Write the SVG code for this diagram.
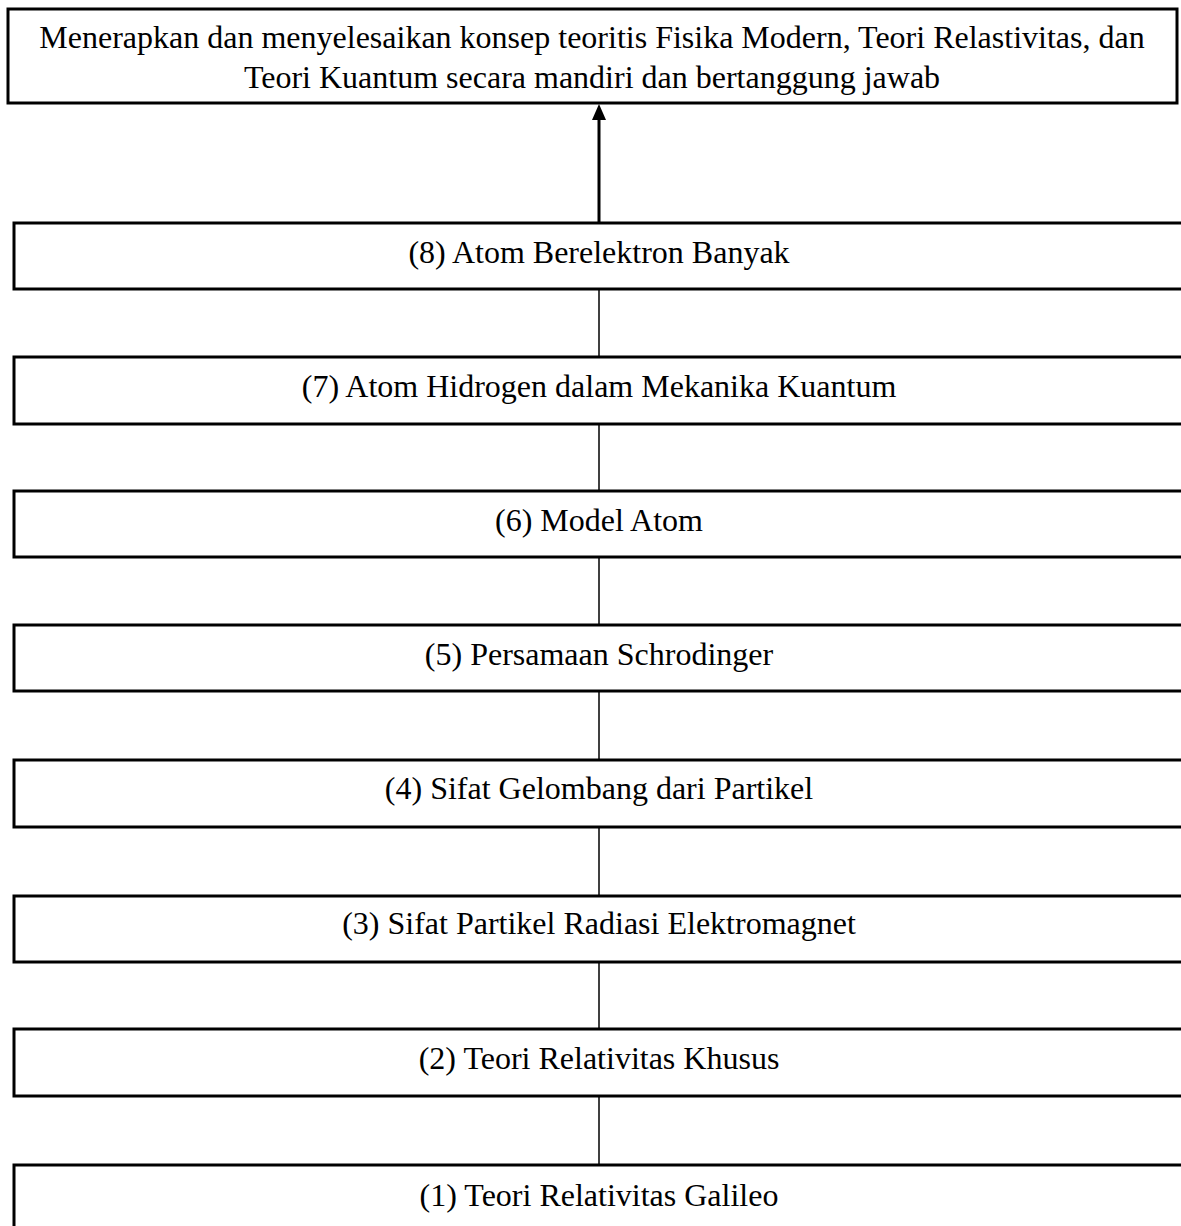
<svg xmlns="http://www.w3.org/2000/svg" width="1181" height="1226" viewBox="0 0 1181 1226">
<style>
.box{fill:#fff;stroke:#000;stroke-width:3}
.t{font-family:"Liberation Serif","Times New Roman",serif;font-size:32px;fill:#000;text-anchor:middle}
.c{stroke:#000;stroke-width:1.5;fill:none}
</style>
<rect width="1181" height="1226" fill="#fff"/>
<g id="connectors">
<line class="c" x1="599" y1="223" x2="599" y2="110" style="stroke-width:3"/>
<path d="M599,104 L592,120 L606,120 Z" fill="#000"/>
<line class="c" x1="599" y1="290" x2="599" y2="357"/>
<line class="c" x1="599" y1="424" x2="599" y2="491"/>
<line class="c" x1="599" y1="558" x2="599" y2="625"/>
<line class="c" x1="599" y1="692" x2="599" y2="760"/>
<line class="c" x1="599" y1="827" x2="599" y2="896"/>
<line class="c" x1="599" y1="962" x2="599" y2="1029"/>
<line class="c" x1="599" y1="1096" x2="599" y2="1165"/>
</g>
<g id="goal">
<rect class="box" x="8" y="9" width="1169" height="94"/>
<text class="t" x="592" y="48">Menerapkan dan menyelesaikan konsep teoritis Fisika Modern, Teori Relastivitas, dan</text>
<text class="t" x="592" y="88">Teori Kuantum secara mandiri dan bertanggung jawab</text>
</g>
<g id="n8">
<rect class="box" x="14" y="223" width="1180" height="66"/>
<text class="t" x="599" y="263">(8) Atom Berelektron Banyak</text>
</g>
<g id="n7">
<rect class="box" x="14" y="357" width="1180" height="67"/>
<text class="t" x="599" y="397">(7) Atom Hidrogen dalam Mekanika Kuantum</text>
</g>
<g id="n6">
<rect class="box" x="14" y="491" width="1180" height="66"/>
<text class="t" x="599" y="531">(6) Model Atom</text>
</g>
<g id="n5">
<rect class="box" x="14" y="625" width="1180" height="66"/>
<text class="t" x="599" y="665">(5) Persamaan Schrodinger</text>
</g>
<g id="n4">
<rect class="box" x="14" y="760" width="1180" height="67"/>
<text class="t" x="599" y="799">(4) Sifat Gelombang dari Partikel</text>
</g>
<g id="n3">
<rect class="box" x="14" y="896" width="1180" height="66"/>
<text class="t" x="599" y="934">(3) Sifat Partikel Radiasi Elektromagnet</text>
</g>
<g id="n2">
<rect class="box" x="14" y="1029" width="1180" height="67"/>
<text class="t" x="599" y="1069">(2) Teori Relativitas Khusus</text>
</g>
<g id="n1">
<rect class="box" x="14" y="1165" width="1180" height="80"/>
<text class="t" x="599" y="1206">(1) Teori Relativitas Galileo</text>
</g>
</svg>
